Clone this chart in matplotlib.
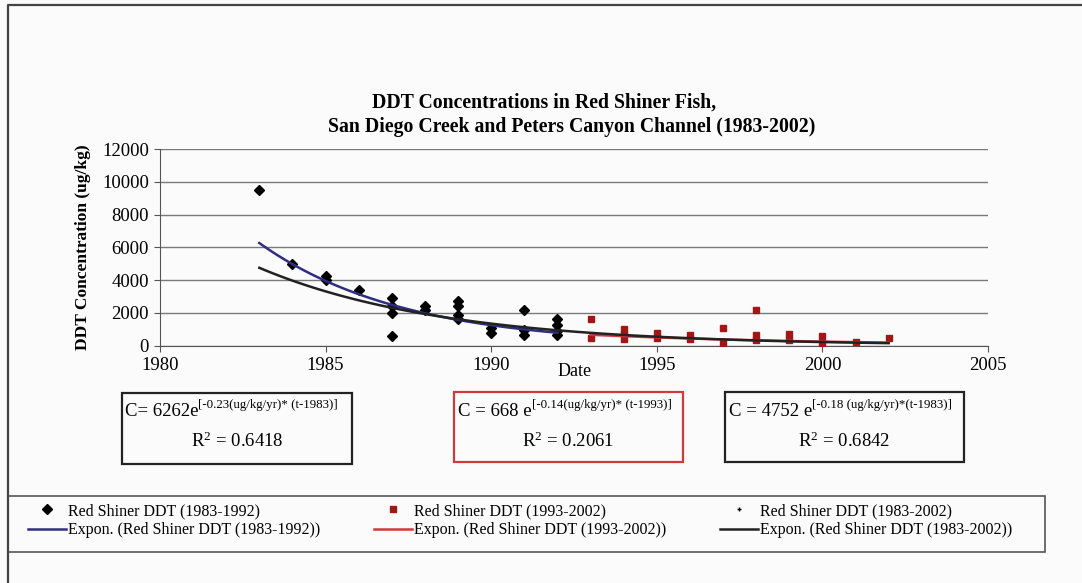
import numpy as np
import matplotlib.pyplot as plt
from matplotlib.patches import Rectangle

plt.rcParams['font.family'] = ['Liberation Serif', 'DejaVu Serif']
plt.rcParams['mathtext.default'] = 'regular'

# Red Shiner DDT, 1983-1992 (ug/kg)
years_a = [1983, 1984, 1985, 1985, 1986, 1987, 1987, 1987, 1987, 1988, 1988,
           1989, 1989, 1989, 1989, 1990, 1990, 1991, 1991, 1991,
           1992, 1992, 1992, 1992]
ddt_a = [9500, 5000, 4250, 4000, 3400, 2900, 2450, 2000, 600, 2400, 2150,
         2750, 2400, 1900, 1650, 1100, 750, 2200, 950, 650,
         1650, 1250, 900, 650]

# Red Shiner DDT, 1993-2002 (ug/kg)
years_b = [1993, 1993, 1994, 1994, 1994, 1995, 1995, 1996, 1996, 1997, 1997,
           1998, 1998, 1998, 1999, 1999, 2000, 2000, 2001, 2002]
ddt_b = [1600, 450, 1000, 700, 400, 750, 450, 650, 400, 1050, 150,
         2200, 650, 350, 700, 350, 600, 150, 250, 450]

# exponential trendlines printed on the chart: C = a * exp(k * (t - t0)) over [t_start, t_end]
fit_a = [6262, -0.23, 1983, 1983, 1992]
fit_b = [668, -0.14, 1993, 1993, 2002]
fit_all = [4752, -0.18, 1983, 1983, 2002]

eq_a = ['C= 6262e', '[-0.23(ug/kg/yr)* (t-1983)]', 'R$^2$ = 0.6418']
eq_b = ['C = 668 e', '[-0.14(ug/kg/yr)* (t-1993)]', 'R$^2$ = 0.2061']
eq_all = ['C = 4752 e', '[-0.18 (ug/kg/yr)*(t-1983)]', 'R$^2$ = 0.6842']

labels = ['Red Shiner DDT (1983-1992)', 'Expon. (Red Shiner DDT (1983-1992))',
          'Red Shiner DDT (1993-2002)', 'Expon. (Red Shiner DDT (1993-2002))',
          'Red Shiner DDT (1983-2002)', 'Expon. (Red Shiner DDT (1983-2002))']

W, H = 1082, 583
bg = '#fbfbfb'
fig = plt.figure(figsize=(W / 100, H / 100), dpi=100, facecolor=bg)

# overlay in pixel coordinates for frame, title, equation boxes
ov = fig.add_axes([0, 0, 1, 1], zorder=0)
ov.set_xlim(0, W)
ov.set_ylim(H, 0)
ov.axis('off')

ov.plot([8, 8, W], [H, 5, 5], color='#444444', lw=1.6, solid_capstyle='butt')
ov.text(544, 103, 'DDT Concentrations in Red Shiner Fish,', ha='center', va='center',
        fontsize=14.2, fontweight='bold')
ov.text(572, 127, 'San Diego Creek and Peters Canyon Channel (1983-2002)', ha='center',
        va='center', fontsize=14.2, fontweight='bold')


def eq_box(x0, x1, y0, y1, eq, edge, tx):
    ov.add_patch(Rectangle((x0, y0), x1 - x0, y1 - y0, fill=False, ec=edge, lw=1.6))
    t = ov.text(tx, 411, eq[0], ha='left', va='center', fontsize=13.5)
    ov.annotate(eq[1], xy=(1, 0.88), xycoords=t, ha='left', va='center', fontsize=9.3)
    ov.text((x0 + x1) / 2, 441, eq[2], ha='center', va='center', fontsize=13.5)


eq_box(122, 352, 393, 464, eq_a, '#222222', 125)
eq_box(454, 683, 392, 462, eq_b, '#d03a3a', 458)
eq_box(725, 964, 392, 462, eq_all, '#222222', 729)

ov.text(575, 372, 'Date', ha='center', va='center', fontsize=13)

# legend frame
ov.add_patch(Rectangle((8, 496), 1037, 56, fill=False, ec='#555555', lw=1.2))

# main plot
ax = fig.add_axes([160 / W, 1 - 345.7 / H, 828 / W, 196.7 / H], zorder=1)
ax.patch.set_alpha(0)
ax.set_xlim(1980, 2005)
ax.set_ylim(0, 12000)
ax.set_xticks(range(1980, 2006, 5))
ax.set_yticks(range(0, 12001, 2000))
ax.grid(axis='y', color='#7a7a7a', lw=1)
ax.set_axisbelow(True)
for s in ['top', 'right']:
    ax.spines[s].set_visible(False)
ax.spines['left'].set_color('#555555')
ax.spines['bottom'].set_color('#555555')
ax.tick_params(direction='out', length=4, color='#555555', labelsize=13.5, pad=4)
ax.set_ylabel('DDT Concentration (ug/kg)', fontsize=12.5, fontweight='bold', labelpad=8)

ax.plot(years_a + years_b, ddt_a + ddt_b, '+', color='black', ms=3.5, mew=1, zorder=2,
        label=labels[4])
ax.plot(years_a, ddt_a, 'D', color='black', ms=5, zorder=3, label=labels[0])
ax.plot(years_b, ddt_b, 's', color='#a31616', ms=5, zorder=3, label=labels[2])

lines = []
for fit, col in [(fit_a, '#2e2e82'), (fit_b, '#d03a3a'), (fit_all, '#222222')]:
    a, k, t0, ts, te = fit
    t = np.linspace(ts, te, 100)
    ln, = ax.plot(t, a * np.exp(k * (t - t0)), color=col, lw=1.8, zorder=5)
    lines.append(ln)

h = ax.get_lines()
handles = [h[1], lines[0], h[2], lines[1], h[0], lines[2]]
leg = fig.legend(handles, labels, ncol=3, loc='center left',
                 bbox_to_anchor=(28 / W, 1 - 520.5 / H),
                 fontsize=11.5, frameon=False, handlelength=2.38, handletextpad=0.1,
                 columnspacing=3.4, labelspacing=0.2, borderaxespad=0, borderpad=0)

fig.savefig('out.png', dpi=100, facecolor=bg)
